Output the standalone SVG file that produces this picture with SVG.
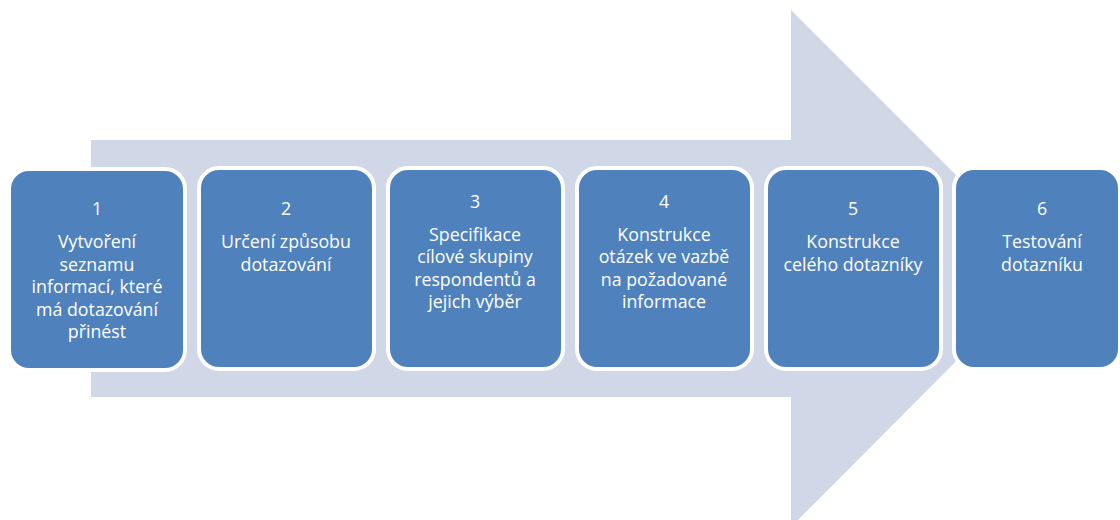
<svg xmlns="http://www.w3.org/2000/svg" width="1120" height="520" viewBox="0 0 1120 520">
<style>
.box{fill:#4F81BD;stroke:#FFFFFF;stroke-width:4}
.t{font-family:"Open Sans","Liberation Sans",sans-serif;font-size:17.8px;fill:#FFFFFF;text-anchor:middle}
</style>
<rect width="1120" height="520" fill="#FFFFFF"/>
<g id="arrow">
<polygon points="91,140 791,140 791,10 1049,268 791,527 791,397 91,397" fill="#D0D8E8"/>
</g>
<g id="connectors"></g>
<g id="node1">
<rect class="box" x="9" y="169" width="176" height="201" rx="20"/>
<text class="t" x="97"><tspan x="97" y="215">1</tspan><tspan x="97" y="248">Vytvoření</tspan><tspan x="97" y="270.5">seznamu</tspan><tspan x="97" y="293">informací, které</tspan><tspan x="97" y="315.5">má dotazování</tspan><tspan x="97" y="338">přinést</tspan></text>
</g>
<g id="node2">
<rect class="box" x="199" y="168" width="175" height="201" rx="20"/>
<text class="t"><tspan x="286" y="215">2</tspan><tspan x="286" y="248">Určení způsobu</tspan><tspan x="286" y="270.5">dotazování</tspan></text>
</g>
<g id="node3">
<rect class="box" x="388" y="168" width="175" height="201" rx="20"/>
<text class="t"><tspan x="475" y="208">3</tspan><tspan x="475" y="240.5">Specifikace</tspan><tspan x="475" y="263">cílové skupiny</tspan><tspan x="475" y="285.5">respondentů  a</tspan><tspan x="475" y="308">jejich výběr</tspan></text>
</g>
<g id="node4">
<rect class="box" x="577" y="168" width="175" height="201" rx="20"/>
<text class="t"><tspan x="664" y="208">4</tspan><tspan x="664" y="240.5">Konstrukce</tspan><tspan x="664" y="263">otázek ve vazbě</tspan><tspan x="664" y="285.5">na požadované</tspan><tspan x="664" y="308">informace</tspan></text>
</g>
<g id="node5">
<rect class="box" x="766" y="168" width="175" height="201" rx="20"/>
<text class="t"><tspan x="853" y="215">5</tspan><tspan x="853" y="248">Konstrukce</tspan><tspan x="853" y="270.5">celého dotazníky</tspan></text>
</g>
<g id="node6">
<rect class="box" x="954" y="168" width="166" height="201" rx="20"/>
<text class="t"><tspan x="1042" y="215">6</tspan><tspan x="1042" y="248">Testování</tspan><tspan x="1042" y="270.5">dotazníku</tspan></text>
</g>
</svg>
